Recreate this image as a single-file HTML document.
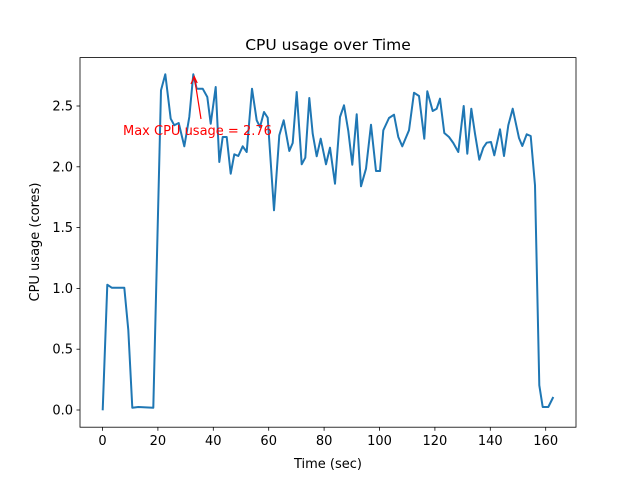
<!DOCTYPE html>
<html><head><meta charset="utf-8"><style>body{margin:0;background:#fff}svg{display:block}text{font-family:"DejaVu Sans","Liberation Sans",sans-serif}</style></head>
<body>
<svg width="640" height="480" viewBox="0 0 640 480" xmlns="http://www.w3.org/2000/svg">
<rect width="640" height="480" fill="#fff"/>
<polyline fill="none" stroke="#1f77b4" stroke-width="2" stroke-linejoin="round" points="102.7,410.3 107.3,284.7 111.7,287.7 124.3,287.7 128.3,330 132.3,407.7 138.3,407 153.3,407.7 161,90.3 165.3,74.3 170.7,118.7 174.3,125.3 178.7,123 184.3,146.3 189.3,117 193.3,74.3 196.7,88.7 202.7,88.7 207.3,97 210.7,123.7 215.7,87 219.3,162 222.7,137 226.7,137 230.7,173.7 234.3,154.3 238.3,156 242.7,146.3 246.7,152 252,88.7 256.7,120.3 260,127 264,112 267.7,117.7 274,210.3 279.3,135.3 283.7,120.3 289.3,151 292.7,143 296.7,92 301.7,164.3 305.3,157.7 309.3,98 312.7,133.7 316.7,156.3 320.7,138.7 326,164.3 330,147.7 335,183.7 340,117 344,105.3 348.3,131 352.3,164.7 356.7,114.3 361,186.3 366,168.7 371,124.7 376,171 380,171 383.3,130.3 389,118 394,114.7 398.3,137 402.3,146.3 409,130.3 414,92.7 419,96 424.3,138.7 427.3,91.3 432.7,111 436.7,108.7 440,98.7 444.3,133 449,137 453.3,143 458.3,152 463.7,106 467.3,153.7 471.3,108.7 475,133.7 479.3,159.7 483.3,147.7 486.7,142.7 491,142 494.3,155.3 500,129.3 504,156 508.3,125.3 512.7,108.7 519,138 522.3,146 526.7,134.3 530.7,136 535,185.3 539.3,385.3 542.7,407 548.3,407 553.3,397"/>
<line x1="201" y1="119" x2="194.5" y2="78" stroke="red" stroke-width="1.2"/>
<polyline points="191,84 194.2,76.5 197.2,83" fill="none" stroke="red" stroke-width="1.2"/>
<text x="123" y="135" font-size="13" fill="red">Max CPU usage = 2.76</text>
<rect x="80" y="57.6" width="496" height="369.6" fill="none" stroke="#000" stroke-width="0.8"/>
<g stroke="#000" stroke-width="0.8">
<line x1="102.5" y1="427.2" x2="102.5" y2="430.7"/><line x1="157.9" y1="427.2" x2="157.9" y2="430.7"/><line x1="213.3" y1="427.2" x2="213.3" y2="430.7"/><line x1="268.7" y1="427.2" x2="268.7" y2="430.7"/><line x1="324.1" y1="427.2" x2="324.1" y2="430.7"/><line x1="379.5" y1="427.2" x2="379.5" y2="430.7"/><line x1="434.9" y1="427.2" x2="434.9" y2="430.7"/><line x1="490.3" y1="427.2" x2="490.3" y2="430.7"/><line x1="545.7" y1="427.2" x2="545.7" y2="430.7"/>
<line x1="76.5" y1="410" x2="80" y2="410"/><line x1="76.5" y1="349.2" x2="80" y2="349.2"/><line x1="76.5" y1="288.4" x2="80" y2="288.4"/><line x1="76.5" y1="227.6" x2="80" y2="227.6"/><line x1="76.5" y1="166.8" x2="80" y2="166.8"/><line x1="76.5" y1="106" x2="80" y2="106"/>
</g>
<g font-size="13" text-anchor="middle" fill="#000">
<text x="102.5" y="445">0</text><text x="157.9" y="445">20</text><text x="213.3" y="445">40</text><text x="268.7" y="445">60</text><text x="324.1" y="445">80</text><text x="379.5" y="445">100</text><text x="434.9" y="445">120</text><text x="490.3" y="445">140</text><text x="545.7" y="445">160</text>
<text x="328" y="468">Time (sec)</text>
<text x="328" y="50" font-size="15.5">CPU usage over Time</text>
</g>
<g font-size="13" text-anchor="end" fill="#000">
<text x="73" y="414.5">0.0</text><text x="73" y="353.7">0.5</text><text x="73" y="292.9">1.0</text><text x="73" y="232.1">1.5</text><text x="73" y="171.3">2.0</text><text x="73" y="110.5">2.5</text>
</g>
<text x="0" y="0" font-size="13" text-anchor="middle" transform="translate(39,242) rotate(-90)">CPU usage (cores)</text>
</svg>
</body></html>
